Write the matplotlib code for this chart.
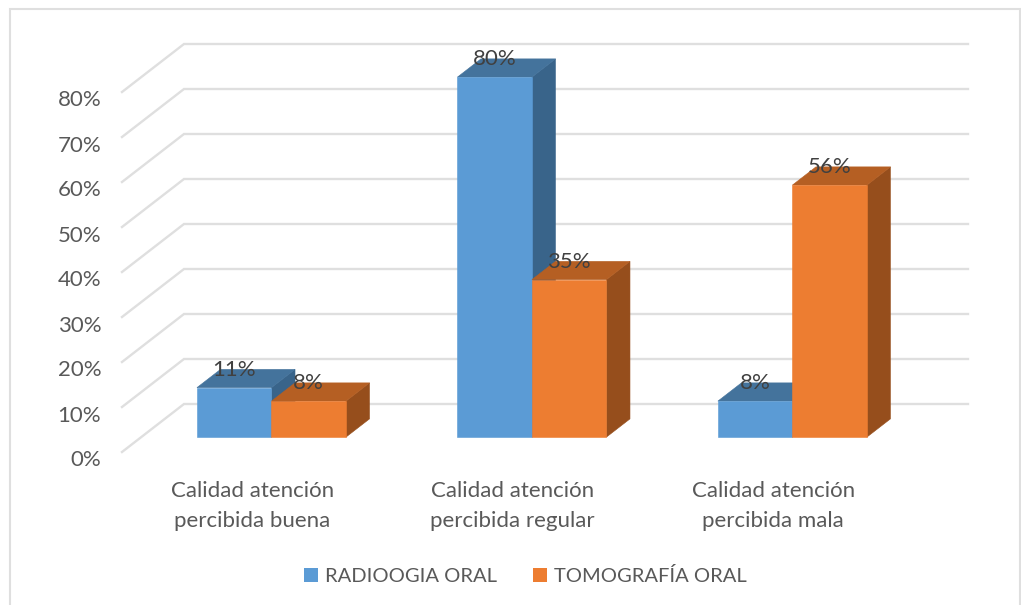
import matplotlib
matplotlib.use("Agg")
import matplotlib.pyplot as plt
from matplotlib.patches import Patch, Polygon, Rectangle
from matplotlib.transforms import ScaledTranslation

plt.rcParams["font.family"] = ["Lato", "DejaVu Sans"]

# Data
categories = [
    "Calidad atención\npercibida buena",
    "Calidad atención\npercibida regular",
    "Calidad atención\npercibida mala",
]
radiologia = [11, 80, 8]
tomografia = [8, 35, 56]
series_names = ["RADIOOGIA ORAL", "TOMOGRAFÍA ORAL"]
y_ticks = [0, 10, 20, 30, 40, 50, 60, 70, 80]

W, H = 1021, 605
BLUE = ["#5B9BD5", "#44739C", "#39648A"]  # front, top, side
ORANGE = ["#ED7D31", "#B55F23", "#964E1C"]
GRID = "#DFDFDF"
TEXT = "#595959"

fig = plt.figure(figsize=(W / 100, H / 100), dpi=100)
fig.patch.set_facecolor("white")

# the axes is the front plane of the 3D box
left, right, bottom, top = 122, 906, 452, 92
ax = fig.add_axes([left / W, 1 - bottom / H, (right - left) / W, (bottom - top) / H])
ax.set_xlim(-0.5, 2.51)
ax.set_ylim(0, 80)
for s in ax.spines.values():
    s.set_visible(False)
ax.patch.set_alpha(0)

# depth direction, in data units per full depth of the box
px_x = 3.01 / (right - left)
px_y = 80 / (bottom - top)
DX, DY = 62 * px_x, 48 * px_y


def proj(x, y, d):
    return (x + d * DX, y + d * DY)


# walls / gridlines
for v in y_ticks:
    ax.plot(
        [proj(-0.5, v, 0)[0], proj(-0.5, v, 1)[0], proj(2.51, v, 1)[0]],
        [proj(-0.5, v, 0)[1], proj(-0.5, v, 1)[1], proj(2.51, v, 1)[1]],
        color=GRID,
        lw=1.7,
        clip_on=False,
        solid_joinstyle="miter",
        zorder=1,
    )


def bar3d(x0, x1, v, colors, z):
    d0, d1 = 0.31, 0.69
    front = [proj(x0, 0, d0), proj(x1, 0, d0), proj(x1, v, d0), proj(x0, v, d0)]
    side = [proj(x1, 0, d0), proj(x1, 0, d1), proj(x1, v, d1), proj(x1, v, d0)]
    roof = [proj(x0, v, d0), proj(x1, v, d0), proj(x1, v, d1), proj(x0, v, d1)]
    for pts, c in [(side, colors[2]), (roof, colors[1]), (front, colors[0])]:
        ax.add_patch(Polygon(pts, closed=True, fc=c, ec=c, lw=0.4, clip_on=False, zorder=z))
    # label sits over the roof, centred on the front face
    cx, cy = proj((x0 + x1) / 2, v, d0)
    ax.text(
        cx,
        cy + 18 * px_y,
        f"{v}%",
        ha="center",
        va="center",
        fontsize=16,
        color="#404040",
        zorder=10,
    )


bar_w = 74.5 * px_x
for i in range(len(categories)):
    bar3d(i - bar_w, i, radiologia[i], BLUE, 3)
    bar3d(i, i + bar_w, tomografia[i], ORANGE, 4)

# axis labels
ax.set_yticks(y_ticks)
ax.set_yticklabels([f"{v}%" for v in y_ticks])
ax.set_xticks(range(len(categories)))
ax.set_xticklabels(categories, linespacing=1.6)
ax.tick_params(axis="both", length=0, labelsize=16, labelcolor=TEXT)
ax.tick_params(axis="y", pad=15)
ax.tick_params(axis="x", pad=21)
shift = ScaledTranslation(0, -6.5 / 100, fig.dpi_scale_trans)
for lab in ax.get_yticklabels():
    lab.set_transform(lab.get_transform() + shift)

ax.legend(
    handles=[Patch(fc=BLUE[0], label=series_names[0]), Patch(fc=ORANGE[0], label=series_names[1])],
    loc="center",
    bbox_to_anchor=(525.5 / W, 1 - 576 / H),
    bbox_transform=fig.transFigure,
    ncol=2,
    frameon=False,
    fontsize=14.5,
    labelcolor=TEXT,
    handlelength=0.7,
    handleheight=0.7,
    handletextpad=0.35,
    columnspacing=1.8,
)

# outer chart border, open at the bottom edge of the crop
fig.add_artist(
    Rectangle(
        (9.5 / W, -0.01),
        1010 / W,
        1 - 8.5 / H + 0.01,
        transform=fig.transFigure,
        fill=False,
        ec=GRID,
        lw=1.5,
    )
)

fig.savefig("out.png", dpi=100)
